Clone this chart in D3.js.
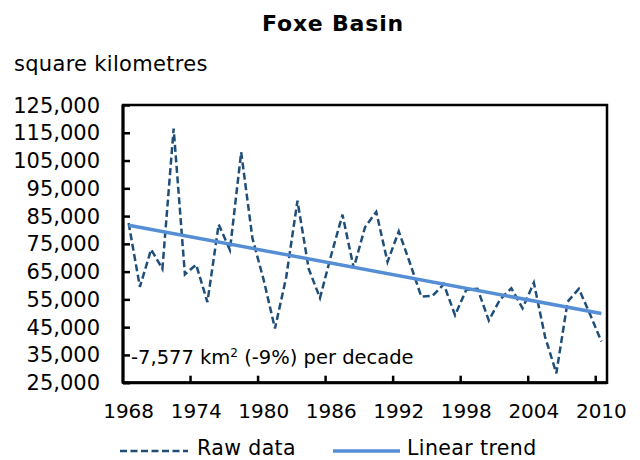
<!DOCTYPE html>
<html>
<head>
<meta charset="utf-8">
<script src="https://cdnjs.cloudflare.com/ajax/libs/d3/7.8.5/d3.min.js"></script>
<style>
  body { margin: 0; background: #fff; }
  text { font-family: "DejaVu Sans", Verdana, sans-serif; fill: #000; }
</style>
</head>
<body>
<div id="drawingArea"></div>
<script>
// ice area, square kilometres, one value per year 1968-2010
var years = [
  1968, 1969, 1970, 1971, 1972, 1973, 1974, 1975, 1976, 1977,
  1978, 1979, 1980, 1981, 1982, 1983, 1984, 1985, 1986, 1987,
  1988, 1989, 1990, 1991, 1992, 1993, 1994, 1995, 1996, 1997,
  1998, 1999, 2000, 2001, 2002, 2003, 2004, 2005, 2006, 2007,
  2008, 2009, 2010
];
var rawData = [
  82500, 59500, 73000, 66000, 116500, 64000, 67500, 54000, 82000, 72800,
  108000, 77000, 62000, 44500, 63000, 90500, 66000, 55500, 71000, 85500,
  66300, 81000, 86500, 68500, 79500, 68000, 56000, 56300, 60500, 49300,
  58500, 58800, 47400, 55000, 59000, 51800, 61000, 41500, 28400, 54200,
  58800, 49600, 39800
];
// linear trend end points
var trendYears = [1968, 2010];
var trendValues = [81700, 49900];

var yearLabels = [1968, 1974, 1980, 1986, 1992, 1998, 2004, 2010];
var yTicks = [25000, 35000, 45000, 55000, 65000, 75000, 85000, 95000, 105000, 115000, 125000];

function drawGraph() {
    var width = 640, height = 460;
    var plot = {left: 123, right: 607, top: 105, bottom: 382.7};

    var svg = d3.select("#drawingArea").append("svg")
        .attr("width", width)
        .attr("height", height);

    // category axis, points sit in the middle of each band
    var x = d3.scaleBand()
        .domain(years)
        .range([plot.left, plot.right])
        .padding(0);
    var xc = function(yr) { return x(yr) + x.bandwidth() / 2; };

    var y = d3.scaleLinear()
        .domain([25000, 125000])
        .range([plot.bottom, plot.top]);

    var fmt = d3.format(",");

    // title and unit
    svg.append("text")
        .attr("x", 333).attr("y", 31)
        .attr("text-anchor", "middle")
        .style("font-size", "22px")
        .style("font-weight", "bold")
        .style("letter-spacing", "0.8px")
        .text("Foxe Basin");

    svg.append("text")
        .attr("x", 14).attr("y", 71)
        .style("font-size", "21px")
        .style("letter-spacing", "0.3px")
        .text("square kilometres");

    // frame
    svg.append("rect")
        .attr("x", plot.left).attr("y", plot.top)
        .attr("width", plot.right - plot.left)
        .attr("height", plot.bottom - plot.top)
        .attr("fill", "none")
        .attr("stroke", "#000")
        .attr("stroke-width", 2.5);

    // y ticks (inside) and labels
    svg.append("g")
        .attr("transform", "translate(" + plot.left + ",0)")
        .call(d3.axisRight(y).tickValues(yTicks).tickSize(7).tickFormat(""))
        .call(function(g) { g.select(".domain").remove(); })
        .selectAll("line").attr("stroke", "#000").attr("stroke-width", 2.5);

    svg.append("g").selectAll("text")
        .data(yTicks)
        .enter().append("text")
        .attr("x", 100)
        .attr("y", function(d) { return y(d); })
        .attr("dy", "0.36em")
        .attr("text-anchor", "end")
        .style("font-size", "21px")
        .text(function(d) { return fmt(d); });

    // x ticks at the left edge of labelled categories
    svg.append("g").selectAll("line")
        .data(yearLabels.slice(1))
        .enter().append("line")
        .attr("x1", function(d) { return x(d); })
        .attr("x2", function(d) { return x(d); })
        .attr("y1", plot.bottom)
        .attr("y2", plot.bottom - 7)
        .attr("stroke", "#000")
        .attr("stroke-width", 2.5);

    svg.append("g").selectAll("text")
        .data(yearLabels)
        .enter().append("text")
        .attr("x", function(d) { return xc(d); })
        .attr("y", 418)
        .attr("text-anchor", "middle")
        .style("font-size", "20px")
        .text(function(d) { return d; });

    // axis lines drawn on top, a bit heavier
    svg.append("line")
        .attr("x1", plot.left).attr("x2", plot.left)
        .attr("y1", plot.top).attr("y2", plot.bottom)
        .attr("stroke", "#000").attr("stroke-width", 3);
    svg.append("line")
        .attr("x1", plot.left).attr("x2", plot.right)
        .attr("y1", plot.bottom).attr("y2", plot.bottom)
        .attr("stroke", "#000").attr("stroke-width", 3);

    // raw data
    var line = d3.line()
        .x(function(d) { return xc(d[0]); })
        .y(function(d) { return y(d[1]); });

    svg.append("path")
        .datum(d3.zip(years, rawData))
        .attr("d", line)
        .attr("fill", "none")
        .attr("stroke", "#1F4E79")
        .attr("stroke-width", 2.5)
        .attr("stroke-dasharray", "7,3.5");

    // linear trend
    svg.append("path")
        .datum(d3.zip(trendYears, trendValues))
        .attr("d", line)
        .attr("fill", "none")
        .attr("stroke", "#558ED5")
        .attr("stroke-width", 3.5);

    // trend annotation
    var note = svg.append("text")
        .attr("x", 131).attr("y", 364)
        .style("font-size", "19.5px");
    note.append("tspan").text("-7,577 km");
    note.append("tspan").attr("dy", -7).style("font-size", "12px").text("2");
    note.append("tspan").attr("dy", 7).text(" (-9%) per decade");

    // legend
    var legend = svg.append("g");
    legend.append("line")
        .attr("x1", 120).attr("x2", 188).attr("y1", 451).attr("y2", 451)
        .attr("stroke", "#1F4E79").attr("stroke-width", 2.5)
        .attr("stroke-dasharray", "7,3.5");
    legend.append("text")
        .attr("x", 197).attr("y", 455)
        .style("font-size", "20.5px")
        .style("letter-spacing", "0.4px")
        .text("Raw data");
    legend.append("line")
        .attr("x1", 333).attr("x2", 400).attr("y1", 451).attr("y2", 451)
        .attr("stroke", "#558ED5").attr("stroke-width", 3.5);
    legend.append("text")
        .attr("x", 407).attr("y", 455)
        .style("font-size", "20.5px")
        .style("letter-spacing", "0.4px")
        .text("Linear trend");
}

drawGraph();
</script>
</body>
</html>
